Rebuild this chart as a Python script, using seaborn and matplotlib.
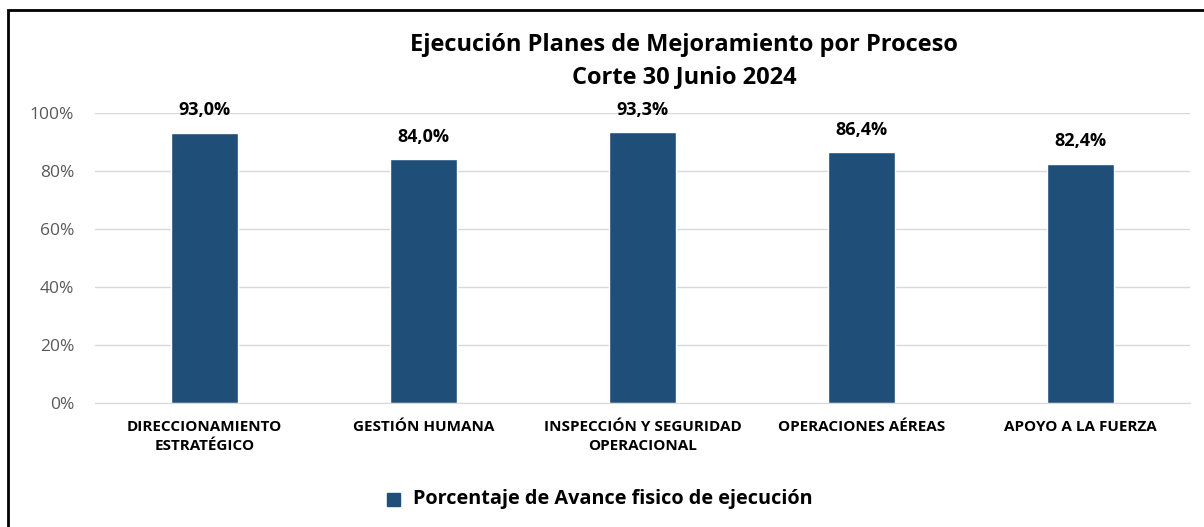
import matplotlib
matplotlib.use("Agg")
import matplotlib.pyplot as plt
from matplotlib.patches import Rectangle
import seaborn as sns
import pandas as pd

procesos = ["DIRECCIONAMIENTO\nESTRATÉGICO", "GESTIÓN HUMANA",
            "INSPECCIÓN Y SEGURIDAD\nOPERACIONAL", "OPERACIONES AÉREAS",
            "APOYO A LA FUERZA"]
avance = [0.930, 0.840, 0.933, 0.864, 0.824]
etiquetas = ["93,0%", "84,0%", "93,3%", "86,4%", "82,4%"]
serie = "Porcentaje de Avance fisico de ejecución"

sns.set_style("white")
plt.rcParams["font.family"] = ["Open Sans", "DejaVu Sans"]
plt.rcParams["text.color"] = "black"
plt.rcParams["xtick.color"] = "black"

df = pd.DataFrame({"proceso": procesos, "avance": avance, "serie": serie})

fig = plt.figure(figsize=(12.04, 5.27), dpi=100)
ax = fig.add_axes([95 / 1204, 1 - 403 / 527, 1095 / 1204, 290 / 527])

sns.barplot(data=df, x="proceso", y="avance", hue="serie", palette=["#1F4E79"],
            width=0.31, ax=ax, legend=False, saturation=1)

ax.set_ylim(0, 1)
ax.set_yticks([0, 0.2, 0.4, 0.6, 0.8, 1.0])
ax.set_yticklabels(["0%", "20%", "40%", "60%", "80%", "100%"], color="#595959", fontsize=12.5)
ax.yaxis.grid(True, color="#D9D9D9", linewidth=1)
ax.set_axisbelow(True)
for s in ["top", "right", "left"]:
    ax.spines[s].set_visible(False)
ax.spines["bottom"].set_color("#D9D9D9")
ax.tick_params(axis="both", length=0)
ax.tick_params(axis="y", pad=15)
ax.tick_params(axis="x", pad=12)
for t in ax.get_xticklabels():
    t.set_fontweight("bold")
    t.set_fontsize(11)
    t.set_linespacing(1.45)
    t.set_color("black")
ax.set_xlabel("")
ax.set_ylabel("")

for i, (v, lab) in enumerate(zip(avance, etiquetas)):
    ax.annotate(lab, (i, v), xytext=(0, 10), textcoords="offset points",
                ha="center", va="bottom", fontsize=13, fontweight="bold",
                color="black", annotation_clip=False)

fig.text(684 / 1204, 1 - 61 / 527, "Ejecución Planes de Mejoramiento por Proceso\nCorte 30 Junio 2024",
         ha="center", va="center", fontsize=17, fontweight="bold", linespacing=1.45,
         color="black")

# leyenda
fig.patches.append(Rectangle((387 / 1204, 1 - 506 / 527), 13 / 1204, 13 / 527,
                             transform=fig.transFigure, color="#1F4E79"))
fig.text(413 / 1204, 1 - 499 / 527, serie, ha="left", va="center",
         fontsize=14.3, fontweight="bold", color="black")

# borde
fig.patches.append(Rectangle((8 / 1204, -0.05), 1.2, 1 - 10 / 527 + 0.05,
                             transform=fig.transFigure, fill=False,
                             edgecolor="black", linewidth=2))

fig.savefig("out.png", dpi=100)
